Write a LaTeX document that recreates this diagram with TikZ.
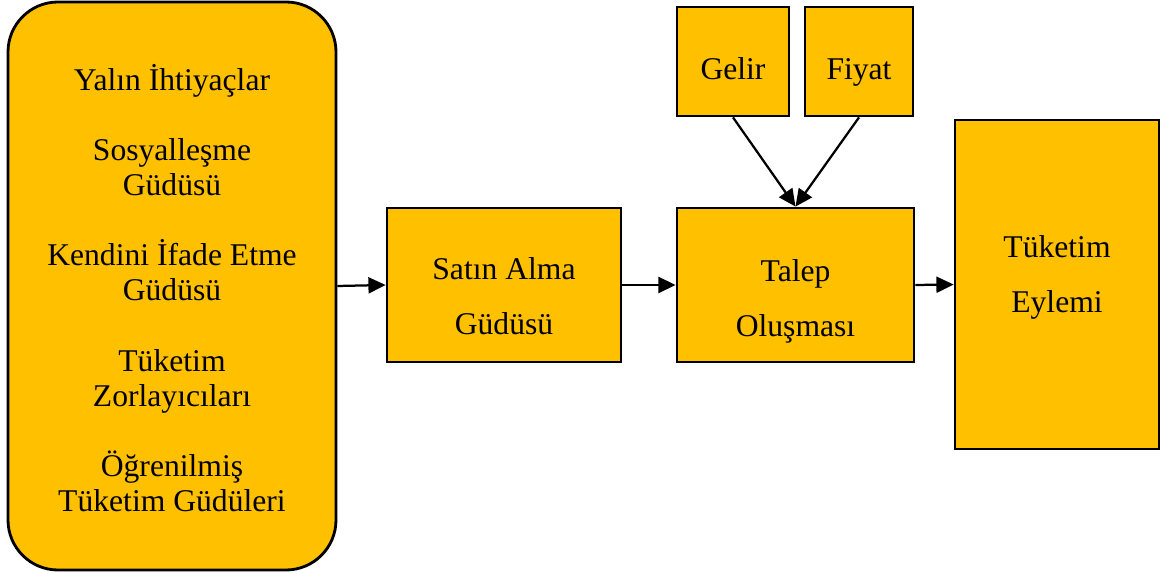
\documentclass[tikz,border=0pt]{standalone}
\usepackage{fontspec}
\setmainfont{Liberation Serif}
\usetikzlibrary{arrows.meta}
\definecolor{boxgold}{RGB}{255,192,0}

\begin{document}
\begin{tikzpicture}[
    box/.style={draw,line width=2pt,fill=boxgold,inner sep=0pt},
    roundbox/.style={box,rounded corners=1.25cm},
    txt/.style={align=center,inner sep=0pt,font=\fontsize{22.5}{39}\selectfont},
    listtxt/.style={align=center,inner sep=0pt,font=\fontsize{22.5}{25}\selectfont},
    arr/.style={-{Triangle[length=4.3mm,width=4mm]},line width=1.6pt}
]
\useasboundingbox (0,0) rectangle (29.05,14.325);

% kutular
\node[roundbox,minimum width=8.2cm,minimum height=14.2cm] (gudu) at (4.3,7.175) {};
\node[box,minimum width=5.85cm,minimum height=3.85cm] (satin) at (12.6,7.2) {};
\node[box,minimum width=5.925cm,minimum height=3.85cm] (talep) at (19.8875,7.2) {};
\node[box,minimum width=2.8cm,minimum height=2.725cm] (gelir) at (18.325,12.7875) {};
\node[box,minimum width=2.7cm,minimum height=2.725cm] (fiyat) at (21.475,12.7875) {};
\node[box,minimum width=5.1cm,minimum height=8.225cm] (eylem) at (26.425,7.2125) {};

% yazilar
\node[listtxt,yshift=-0.05cm] (gudu-txt) at (gudu.center) {Yalın İhtiyaçlar\\[25pt]
    Sosyalleşme\\ Güdüsü\\[25pt]
    Kendini İfade Etme\\ Güdüsü\\[25pt]
    Tüketim\\ Zorlayıcıları\\[25pt]
    Öğrenilmiş\\ Tüketim Güdüleri};
\node[txt,yshift=-0.29cm] (satin-txt) at (satin.center) {Satın Alma\\ Güdüsü};
\node[txt,yshift=-0.42cm] (talep-txt) at (talep.center) {Talep\\ Oluşması};
\node[txt,yshift=-0.19cm] (gelir-txt) at (gelir.center) {Gelir};
\node[txt,yshift=-0.28cm] (fiyat-txt) at (fiyat.center) {Fiyat};
\node[txt,yshift=0.18cm] (eylem-txt) at (eylem.center) {Tüketim\\ Eylemi};

% oklar
\draw[arr] (gudu.east) -- (satin.west);
\draw[arr] (satin.east) -- (talep.west);
\draw[arr] (talep.east) -- (eylem.west);
\draw[arr] (gelir.south) -- (talep.north);
\draw[arr] (fiyat.south) -- (talep.north);
\end{tikzpicture}
\end{document}
